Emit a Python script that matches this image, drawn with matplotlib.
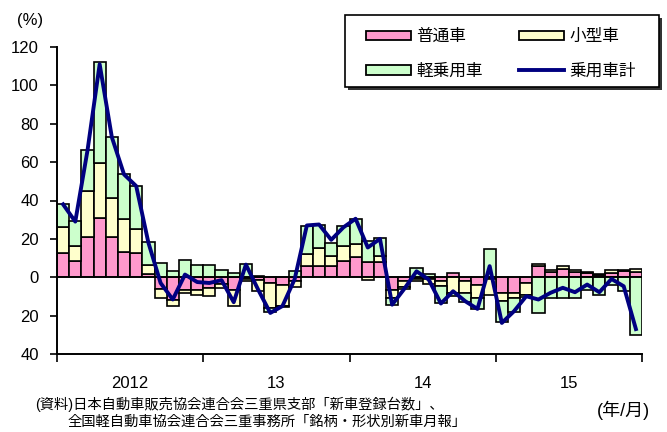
import numpy as np
import matplotlib
matplotlib.use("Agg")
import matplotlib.pyplot as plt
from matplotlib.patches import Patch, Rectangle
from matplotlib.lines import Line2D

plt.rcParams['font.family'] = ['Liberation Sans', 'Noto Sans CJK JP', 'DejaVu Sans']

# 2012/1 .. 2015/12 (48 months), contribution to YoY change (%)
futsu = [12.7, 8.4, 21.1, 31.0, 20.9, 13.4, 12.7, 1.9, -6.1, -11.6, -6.8, -6.5,
         -5.5, -3.5, -6.4, -1.0, -1.5, -2.9, -3.8, -2.0, 5.8, 5.8, 5.8, 8.4,
         10.4, 7.8, 7.8, -6.4, -2.0, -1.0, -1.0, -1.7, 2.3, -2.0, -3.8, -1.0,
         -8.1, -8.1, -3.0, 5.8, 2.8, 4.5, 2.8, 2.1, 1.0, 2.1, 3.0, 2.8]
kogata = [13.4, 7.8, 23.7, 28.4, 20.2, 17.2, 12.6, 4.7, -4.7, -3.5, -1.4, -2.5,
          -4.4, -2.0, -8.7, -1.0, -5.8, -13.1, -11.3, -3.0, 6.1, 9.5, 5.2, 7.8,
          6.7, -1.5, 3.5, -4.4, -3.0, -1.0, -2.5, -3.0, -8.1, -6.0, -7.0, -8.0,
          -4.4, -2.7, -6.0, 1.0, 1.0, 1.5, 1.0, 0.5, 0.8, 1.5, 1.0, 1.5]
kei = [11.9, 13.1, 21.4, 52.9, 32.0, 23.0, 22.2, 11.7, 7.5, 3.5, 8.9, 6.6,
       6.6, 3.7, 2.3, 7.0, 0.5, -2.3, -0.5, 3.1, 14.7, 11.7, 7.0, 10.4,
       13.0, 11.0, 9.2, -3.5, -1.0, 4.9, 1.5, -8.7, -1.5, -4.9, -5.7, 14.8,
       -11.0, -7.5, -1.5, -18.6, -11.0, -11.0, -10.8, -6.4, -9.0, -4.0, -7.3, -30.0]
total = [38, 29, 66, 111, 73, 53.6, 47.5, 18, -3, -11.6, 1.4, -2.5,
         -3, -1.5, -13, 6.6, -6.4, -18.6, -15, -1, 27, 27.5, 19.5, 26,
         30.5, 15.5, 20, -14.3, -6, 3.1, -1.2, -13.7, -7.3, -12.5, -16.5, 5.8,
         -23.8, -17.7, -9.9, -11.6, -8.1, -5.5, -7.8, -3.8, -7.8, -0.9, -4.7, -27]
year_labels = ['2012', '13', '14', '15']
series_names = ['普通車', '小型車', '軽乗用車', '乗用車計']
ytick_vals = [-40, -20, 0, 20, 40, 60, 80, 100, 120]

colors = ['#FF99CC', '#FFFFCC', '#CCFFCC']
line_color = '#000080'

W, H = 667, 432
fig = plt.figure(figsize=(W/100, H/100), dpi=100)
ax = fig.add_axes([57/W, 1-354/H, (642-57)/W, (354-47)/H])

x = np.arange(len(total))
pos_bottom = np.zeros(len(x))
neg_bottom = np.zeros(len(x))
for vals, c in zip([futsu, kogata, kei], colors):
    v = np.array(vals, dtype=float)
    bottom = np.where(v >= 0, pos_bottom, neg_bottom)
    ax.bar(x, v, width=1.0, bottom=bottom, color=c, edgecolor='black',
           linewidth=1.2, zorder=2)
    pos_bottom += np.where(v >= 0, v, 0)
    neg_bottom += np.where(v < 0, v, 0)

ax.plot(x, total, color=line_color, linewidth=2.8, zorder=4,
        solid_joinstyle='round')
ax.axhline(0, color='black', linewidth=1.2, zorder=3)

ax.set_xlim(-0.5, len(x) - 0.5)
ax.set_ylim(-40, 120)
ax.set_yticks(ytick_vals)
ax.set_yticklabels([str(abs(v)) for v in ytick_vals], fontsize=12)
ax.tick_params(axis='y', direction='out', length=5, width=1.2, pad=8)

major = np.arange(-0.5, len(x), 12)
ax.set_xticks(major)
ax.set_xticklabels([''] * len(major))
ax.set_xticks(np.arange(5.5, len(x), 12), minor=True)
ax.set_xticklabels(year_labels, minor=True, fontsize=12)
ax.tick_params(axis='x', which='major', direction='out', length=6, width=1.2)
ax.tick_params(axis='x', which='minor', length=0, pad=16)

for s in ['top', 'right']:
    ax.spines[s].set_visible(False)
for s in ['left', 'bottom']:
    ax.spines[s].set_linewidth(1.4)

# legend frame with shadow (drawn in figure pixel coordinates)
lx0, ly0, lx1, ly1 = 345, 15, 659, 87
fig.patches.append(Rectangle(((lx0+3)/W, 1-(ly1+3)/H), (lx1-lx0)/W, (ly1-ly0)/H,
                             transform=fig.transFigure, facecolor='#333333',
                             edgecolor='none', zorder=5))
fig.patches.append(Rectangle((lx0/W, 1-ly1/H), (lx1-lx0)/W, (ly1-ly0)/H,
                             transform=fig.transFigure, facecolor='white',
                             edgecolor='black', linewidth=1.2, zorder=6))

handles = [Patch(facecolor=colors[0], edgecolor='black', linewidth=1.3),
           Patch(facecolor=colors[2], edgecolor='black', linewidth=1.3),
           Patch(facecolor=colors[1], edgecolor='black', linewidth=1.3),
           Line2D([0], [0], color=line_color, linewidth=2.8)]
labels = [series_names[0], series_names[2], series_names[1], series_names[3]]
leg = fig.legend(handles, labels, loc='upper left',
                 bbox_to_anchor=(366/W, 1-29/H), ncol=2, fontsize=12,
                 frameon=False, handlelength=2.7, handleheight=0.5,
                 handletextpad=0.3, labelspacing=1.15, columnspacing=2.2,
                 borderpad=0, borderaxespad=0)
leg.set_zorder(7)

fig.text(17/W, 1-20/H, '(%)', fontsize=12, va='center', ha='left')
fig.text(35/W, 1-404/H, '(資料)日本自動車販売協会連合会三重県支部「新車登録台数」、',
         fontsize=10.3, va='center', ha='left')
fig.text(68/W, 1-422/H, '全国軽自動車協会連合会三重事務所「銘柄・形状別新車月報」',
         fontsize=10.3, va='center', ha='left')
fig.text(650/W, 1-410/H, '(年/月)', fontsize=13, va='center', ha='right')

fig.savefig('out.png', dpi=100)
